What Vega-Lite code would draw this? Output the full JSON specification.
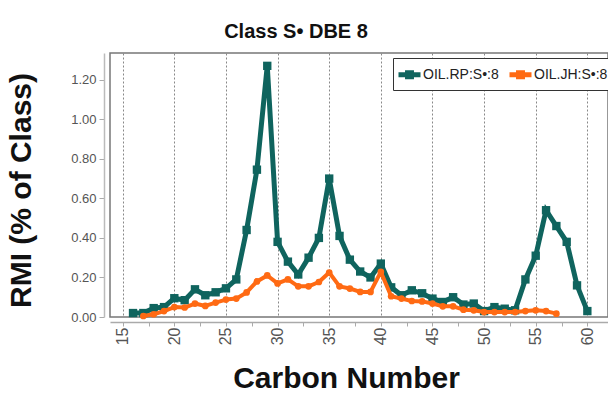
{
  "$schema": "https://vega.github.io/schema/vega-lite/v6.json",
  "width": 498,
  "height": 264,
  "autosize": "none",
  "padding": {"left": 110, "top": 53, "right": 0, "bottom": 76},
  "background": "white",
  "config": {
    "font": "Liberation Sans",
    "view": {"stroke": "#777", "strokeWidth": 1.5},
    "legend": {"strokeColor": "#333", "fillColor": "white"}
  },
  "title": {
    "text": "Class S• DBE 8",
    "font": "Liberation Sans",
    "fontSize": 20,
    "fontWeight": "bold",
    "color": "#111",
    "anchor": "middle",
    "frame": "group",
    "dx": -63,
    "baseline": "alphabetic",
    "offset": -5
  },
  "datasets": {
    "rmi": [
      {"c": 16, "v": 0.02, "s": "OIL.RP:S•:8"},
      {"c": 17, "v": 0.02, "s": "OIL.RP:S•:8"},
      {"c": 18, "v": 0.045, "s": "OIL.RP:S•:8"},
      {"c": 19, "v": 0.05, "s": "OIL.RP:S•:8"},
      {"c": 20, "v": 0.095, "s": "OIL.RP:S•:8"},
      {"c": 21, "v": 0.085, "s": "OIL.RP:S•:8"},
      {"c": 22, "v": 0.14, "s": "OIL.RP:S•:8"},
      {"c": 23, "v": 0.11, "s": "OIL.RP:S•:8"},
      {"c": 24, "v": 0.125, "s": "OIL.RP:S•:8"},
      {"c": 25, "v": 0.145, "s": "OIL.RP:S•:8"},
      {"c": 26, "v": 0.19, "s": "OIL.RP:S•:8"},
      {"c": 27, "v": 0.44, "s": "OIL.RP:S•:8"},
      {"c": 28, "v": 0.745, "s": "OIL.RP:S•:8"},
      {"c": 29, "v": 1.27, "s": "OIL.RP:S•:8"},
      {"c": 30, "v": 0.38, "s": "OIL.RP:S•:8"},
      {"c": 31, "v": 0.28, "s": "OIL.RP:S•:8"},
      {"c": 32, "v": 0.215, "s": "OIL.RP:S•:8"},
      {"c": 33, "v": 0.3, "s": "OIL.RP:S•:8"},
      {"c": 34, "v": 0.4, "s": "OIL.RP:S•:8"},
      {"c": 35, "v": 0.7, "s": "OIL.RP:S•:8"},
      {"c": 36, "v": 0.41, "s": "OIL.RP:S•:8"},
      {"c": 37, "v": 0.29, "s": "OIL.RP:S•:8"},
      {"c": 38, "v": 0.23, "s": "OIL.RP:S•:8"},
      {"c": 39, "v": 0.2, "s": "OIL.RP:S•:8"},
      {"c": 40, "v": 0.27, "s": "OIL.RP:S•:8"},
      {"c": 41, "v": 0.15, "s": "OIL.RP:S•:8"},
      {"c": 42, "v": 0.11, "s": "OIL.RP:S•:8"},
      {"c": 43, "v": 0.135, "s": "OIL.RP:S•:8"},
      {"c": 44, "v": 0.12, "s": "OIL.RP:S•:8"},
      {"c": 45, "v": 0.093, "s": "OIL.RP:S•:8"},
      {"c": 46, "v": 0.076, "s": "OIL.RP:S•:8"},
      {"c": 47, "v": 0.1, "s": "OIL.RP:S•:8"},
      {"c": 48, "v": 0.063, "s": "OIL.RP:S•:8"},
      {"c": 49, "v": 0.068, "s": "OIL.RP:S•:8"},
      {"c": 50, "v": 0.03, "s": "OIL.RP:S•:8"},
      {"c": 51, "v": 0.05, "s": "OIL.RP:S•:8"},
      {"c": 52, "v": 0.042, "s": "OIL.RP:S•:8"},
      {"c": 53, "v": 0.034, "s": "OIL.RP:S•:8"},
      {"c": 54, "v": 0.19, "s": "OIL.RP:S•:8"},
      {"c": 55, "v": 0.31, "s": "OIL.RP:S•:8"},
      {"c": 56, "v": 0.54, "s": "OIL.RP:S•:8"},
      {"c": 57, "v": 0.46, "s": "OIL.RP:S•:8"},
      {"c": 58, "v": 0.38, "s": "OIL.RP:S•:8"},
      {"c": 59, "v": 0.16, "s": "OIL.RP:S•:8"},
      {"c": 60, "v": 0.03, "s": "OIL.RP:S•:8"},
      {"c": 17, "v": 0.005, "s": "OIL.JH:S•:8"},
      {"c": 18, "v": 0.014, "s": "OIL.JH:S•:8"},
      {"c": 19, "v": 0.03, "s": "OIL.JH:S•:8"},
      {"c": 20, "v": 0.05, "s": "OIL.JH:S•:8"},
      {"c": 21, "v": 0.048, "s": "OIL.JH:S•:8"},
      {"c": 22, "v": 0.068, "s": "OIL.JH:S•:8"},
      {"c": 23, "v": 0.056, "s": "OIL.JH:S•:8"},
      {"c": 24, "v": 0.073, "s": "OIL.JH:S•:8"},
      {"c": 25, "v": 0.088, "s": "OIL.JH:S•:8"},
      {"c": 26, "v": 0.093, "s": "OIL.JH:S•:8"},
      {"c": 27, "v": 0.124, "s": "OIL.JH:S•:8"},
      {"c": 28, "v": 0.18, "s": "OIL.JH:S•:8"},
      {"c": 29, "v": 0.21, "s": "OIL.JH:S•:8"},
      {"c": 30, "v": 0.17, "s": "OIL.JH:S•:8"},
      {"c": 31, "v": 0.19, "s": "OIL.JH:S•:8"},
      {"c": 32, "v": 0.155, "s": "OIL.JH:S•:8"},
      {"c": 33, "v": 0.155, "s": "OIL.JH:S•:8"},
      {"c": 34, "v": 0.177, "s": "OIL.JH:S•:8"},
      {"c": 35, "v": 0.225, "s": "OIL.JH:S•:8"},
      {"c": 36, "v": 0.155, "s": "OIL.JH:S•:8"},
      {"c": 37, "v": 0.144, "s": "OIL.JH:S•:8"},
      {"c": 38, "v": 0.127, "s": "OIL.JH:S•:8"},
      {"c": 39, "v": 0.127, "s": "OIL.JH:S•:8"},
      {"c": 40, "v": 0.228, "s": "OIL.JH:S•:8"},
      {"c": 41, "v": 0.105, "s": "OIL.JH:S•:8"},
      {"c": 42, "v": 0.093, "s": "OIL.JH:S•:8"},
      {"c": 43, "v": 0.081, "s": "OIL.JH:S•:8"},
      {"c": 44, "v": 0.079, "s": "OIL.JH:S•:8"},
      {"c": 45, "v": 0.068, "s": "OIL.JH:S•:8"},
      {"c": 46, "v": 0.054, "s": "OIL.JH:S•:8"},
      {"c": 47, "v": 0.054, "s": "OIL.JH:S•:8"},
      {"c": 48, "v": 0.037, "s": "OIL.JH:S•:8"},
      {"c": 49, "v": 0.034, "s": "OIL.JH:S•:8"},
      {"c": 50, "v": 0.025, "s": "OIL.JH:S•:8"},
      {"c": 51, "v": 0.025, "s": "OIL.JH:S•:8"},
      {"c": 52, "v": 0.025, "s": "OIL.JH:S•:8"},
      {"c": 53, "v": 0.025, "s": "OIL.JH:S•:8"},
      {"c": 54, "v": 0.03, "s": "OIL.JH:S•:8"},
      {"c": 55, "v": 0.034, "s": "OIL.JH:S•:8"},
      {"c": 56, "v": 0.03, "s": "OIL.JH:S•:8"},
      {"c": 57, "v": 0.017, "s": "OIL.JH:S•:8"}
    ]
  },
  "data": {"name": "rmi"},
  "encoding": {
    "x": {
      "field": "c",
      "type": "quantitative",
      "scale": {"domain": [13.77, 62], "nice": false, "zero": false},
      "axis": {
        "title": "Carbon Number",
        "titleFont": "Liberation Sans",
        "titleFontSize": 30,
        "titleFontWeight": "bold",
        "titleColor": "#111",
        "titleX": 236,
        "titleY": 65,
        "titleAlign": "center",
        "titleBaseline": "alphabetic",
        "values": [15, 17.5, 20, 22.5, 25, 27.5, 30, 32.5, 35, 37.5, 40, 42.5, 45, 47.5, 50, 52.5, 55, 57.5, 60],
        "labelExpr": "datum.value % 5 === 0 ? format(datum.value, 'd') : ''",
        "labelAngle": -90,
        "labelAlign": "right",
        "labelBaseline": "middle",
        "labelFontSize": 16,
        "labelColor": "#555",
        "labelPadding": 1,
        "labelOverlap": false,
        "offset": 5,
        "domainColor": "#aaa",
        "domainWidth": 1.5,
        "tickColor": "#aaa",
        "tickSize": 4,
        "grid": true,
        "gridColor": "#888",
        "gridDash": [2, 2],
        "gridWidth": 1,
        "gridOpacity": {"condition": {"test": "datum.value % 5 === 0", "value": 1}, "value": 0}
      }
    },
    "y": {
      "field": "v",
      "type": "quantitative",
      "scale": {"domain": [0, 1.335], "nice": false},
      "axis": {
        "title": "RMI (% of Class)",
        "titleFont": "Liberation Sans",
        "titleFontSize": 30,
        "titleFontWeight": "bold",
        "titleColor": "#111",
        "titleAngle": -90,
        "titleX": -83,
        "titleY": 137,
        "titleAlign": "center",
        "titleBaseline": "middle",
        "values": [0, 0.2, 0.4, 0.6, 0.8, 1.0, 1.2],
        "format": ".2f",
        "labelFontSize": 13,
        "labelColor": "#555",
        "labelPadding": 3,
        "offset": 6,
        "domainColor": "#bbb",
        "domainWidth": 1.5,
        "tickColor": "#aaa",
        "tickSize": 5,
        "grid": false
      }
    }
  },
  "layer": [
    {
      "transform": [{"filter": "datum.s === 'OIL.RP:S•:8'"}],
      "mark": {"type": "line", "strokeWidth": 5, "strokeJoin": "miter"},
      "encoding": {
        "color": {
          "field": "s",
          "type": "nominal",
          "scale": {"domain": ["OIL.RP:S•:8", "OIL.JH:S•:8"], "range": ["#0f645e", "#ff6a13"]},
          "legend": {
            "title": null,
            "orient": "none",
            "legendX": 283,
            "legendY": 5,
            "direction": "horizontal",
            "padding": 3,
            "columnPadding": 0,
            "symbolType": "M-1,0L1,0M-0.18,-0.18L0.18,-0.18L0.18,0.18L-0.18,0.18Z",
            "symbolSize": 484,
            "symbolStrokeWidth": 5,
            "labelFont": "Liberation Sans",
            "labelFontSize": 14,
            "labelColor": "#222",
            "labelOffset": 0
          }
        }
      }
    },
    {
      "transform": [{"filter": "datum.s === 'OIL.RP:S•:8'"}],
      "mark": {"type": "point", "shape": "square", "filled": true, "size": 70, "opacity": 1, "color": "#0f645e"}
    },
    {
      "transform": [{"filter": "datum.s === 'OIL.JH:S•:8'"}],
      "mark": {"type": "line", "strokeWidth": 4, "strokeJoin": "round"},
      "encoding": {
        "color": {"field": "s", "type": "nominal"}
      }
    },
    {
      "transform": [{"filter": "datum.s === 'OIL.JH:S•:8'"}],
      "mark": {"type": "point", "shape": "circle", "filled": true, "size": 45, "opacity": 1, "color": "#ff6a13"}
    }
  ]
}
